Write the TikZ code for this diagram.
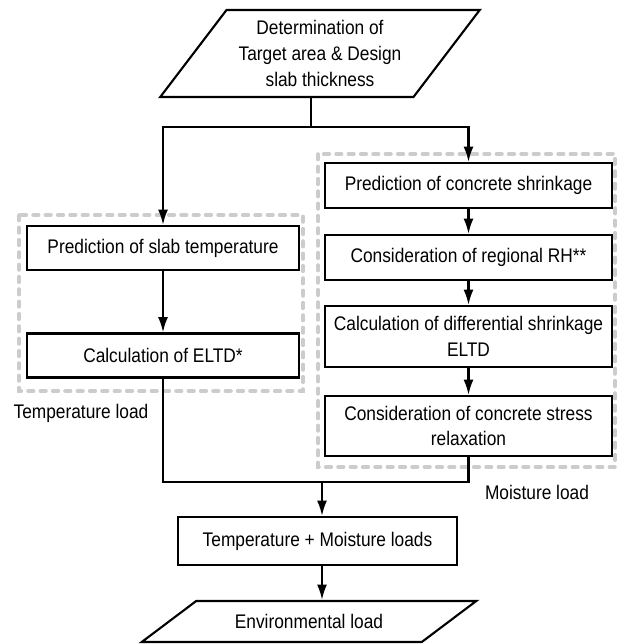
\documentclass[tikz,border=0pt]{standalone}
\usepackage{fontspec}
\setmainfont{Liberation Sans}[FakeStretch=0.88]
\usetikzlibrary{shapes.geometric,arrows.meta}

\begin{document}
\begin{tikzpicture}[
    box/.style={draw,line width=1.8pt,inner sep=2pt,align=center,minimum width=#1cm},
    box/.default=8.61,
    para/.style={draw,line width=1.8pt,trapezium,trapezium stretches=true,align=center,inner sep=2pt},
    group/.style={draw=gray!40,line width=3pt,dash pattern=on 0.17cm off 0.2cm,line cap=round},
    arr/.style={line width=1.8pt,-{Latex[length=0.46cm,width=0.3cm]}},
    link/.style={line width=1.8pt},
    font=\fontsize{16.8pt}{22pt}\selectfont
  ]
    \pgfmathsetmacro{\leftx}{4.89}
    \pgfmathsetmacro{\rightx}{14.055}
    \useasboundingbox (0,0) rectangle (18.51,19.32);
    % dashed groups
    \draw[group] (0.57,12.87) rectangle (9.09,7.59);
    \draw[group] (9.54,14.7) rectangle (18.45,5.31);
    \node[para,trapezium left angle=50,trapezium right angle=130,minimum width=9.6cm,minimum height=2.61cm] (target) at (9.6,17.715)
      {Determination of\\Target area \& Design\\slab thickness};
    \coordinate (split) at (9.33,15.51);
    % temperature branch
    \node[box=8.16,minimum height=1.32cm] (slabtemp) at (\leftx,11.88) {Prediction of slab temperature};
    \node[box=8.16,minimum height=1.32cm] (eltd) at (\leftx,8.655) {Calculation of ELTD*};
    \node (templabel) at (2.43,6.93) {Temperature load};
    % moisture branch
    \node[box,minimum height=1.35cm] (shrink) at (\rightx,13.755) {Prediction of concrete shrinkage};
    \node[box,minimum height=1.35cm] (regrh) at (\rightx,11.595) {Consideration of regional RH**};
    \node[box,minimum height=1.83cm] (diffshr) at (\rightx,9.225) {Calculation of differential shrinkage\\ELTD};
    \node[box,minimum height=1.8cm] (relax) at (\rightx,6.54) {Consideration of concrete stress\\relaxation};
    \node (moistlabel) at (16.11,4.56) {Moisture load};
    \coordinate (merge) at (9.66,4.86);
    \node[box=8.37,minimum height=1.44cm] (both) at (9.525,3.09) {Temperature + Moisture loads};
    \node[para,trapezium left angle=27.4,trapezium right angle=152.6,minimum width=10.05cm,minimum height=1.23cm] (envload) at (9.27,0.675) {Environmental load};
    % connectors
    \draw[link] (target.south -| split) -- (split);
    \draw[arr] (split) -| (slabtemp);
    \draw[arr] (split) -| (shrink);
    \draw[arr] (slabtemp) -- (eltd);
    \draw[arr] (shrink) -- (regrh);
    \draw[arr] (regrh) -- (diffshr);
    \draw[arr] (diffshr) -- (relax);
    \draw[link] (eltd.south) |- (merge);
    \draw[link] (relax.south) |- (merge);
    \draw[arr] (merge) -- (merge |- both.north);
    \draw[arr] (merge |- both.south) -- (merge |- envload.north);
\end{tikzpicture}
\end{document}
